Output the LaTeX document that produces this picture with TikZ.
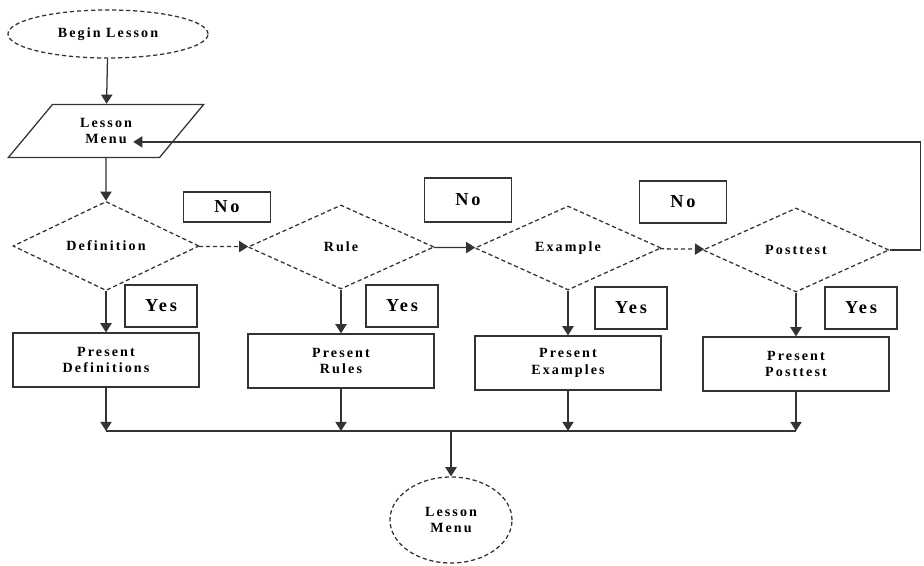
\documentclass[tikz,border=0pt]{standalone}
\usepackage{fontspec}
\setmainfont[LetterSpace=15]{Liberation Serif}
\usetikzlibrary{shapes.geometric,arrows.meta,calc}

\tikzset{
  ln/.style={draw=black!80, line width=0.9pt},
  txt/.style={font=\bfseries\fontsize{10}{12}\selectfont, align=center, inner sep=1pt},
  term/.style={ln, txt, ellipse, densely dashed},
  io/.style={ln, txt, trapezium, trapezium stretches=true, trapezium left angle=52,
    trapezium right angle=128, minimum width=4.9cm, minimum height=1.33cm},
  decide/.style={ln, txt, diamond, densely dashed, inner sep=0pt, minimum width=4.65cm, minimum height=2.1cm},
  proc/.style={ln, txt, rectangle, minimum width=4.65cm, minimum height=1.35cm},
  yesbox/.style={ln, rectangle, font=\bfseries\fontsize{13}{15}\selectfont, minimum width=1.8cm, minimum height=1.05cm},
  nobox/.style={ln, rectangle, font=\bfseries\fontsize{13}{15}\selectfont, minimum width=2.17cm, minimum height=1.05cm},
}

\begin{document}
\begin{tikzpicture}[x=0.025cm, y=-0.025cm, >={Triangle[length=6.5pt,width=8pt]}]
    \useasboundingbox (0,0) rectangle (924,565);

    \node[term, minimum width=5cm, minimum height=1.2cm] (begin) at (108,34) {Begin Lesson};
    \node[io] (menu) at (106,131) {Lesson\\Menu};

    \node[decide] (def) at (106,246) {Definition};
    \node[decide] (rule) at (341,247) {Rule};
    \node[decide] (exam) at (568,248) {Example};
    \node[decide] (post) at (796,250) {Posttest};

    \node[nobox, minimum height=0.75cm] (no1) at (227,207) {No};
    \node[nobox, minimum height=1.1cm] (no2) at (468,200) {No};
    \node[nobox] (no3) at (683,202) {No};

    \node[yesbox] (yes1) at (161,306) {Yes};
    \node[yesbox] (yes2) at (402,306) {Yes};
    \node[yesbox] (yes3) at (631,308) {Yes};
    \node[yesbox] (yes4) at (861,308) {Yes};

    \node[proc] (pdef) at (106,360) {Present\\Definitions};
    \node[proc] (prule) at (341,361) {Present\\Rules};
    \node[proc] (pexam) at (568,363) {Present\\Examples};
    \node[proc] (ppost) at (796,364) {Present\\Posttest};

    \node[term, minimum width=3.05cm, minimum height=2.15cm] (last) at (451,520) {Lesson\\Menu};

    \coordinate (b1) at (106,431);
    \coordinate (b2) at (341,431);
    \coordinate (b3) at (568,431);
    \coordinate (b4) at (796,431);
    \coordinate (bm) at (451,431);

    \draw[ln,->] (begin) to (menu);
    \draw[ln,->] (menu) to (def);
    \draw[ln,->,densely dashed] (def) to (rule);
    \draw[ln,->] (rule) to (exam);
    \draw[ln,->,densely dashed] (exam) to (post);
    \draw[ln,->] (post.east) -- ++(31,0) |- ($(menu.south east)!0.3!(menu.north east)$);

    \draw[ln,->] (def) to (pdef);
    \draw[ln,->] (rule) to (prule);
    \draw[ln,->] (exam) to (pexam);
    \draw[ln,->] (post) to (ppost);

    \draw[ln,->] (pdef) to (b1);
    \draw[ln,->] (prule) to (b2);
    \draw[ln,->] (pexam) to (b3);
    \draw[ln,->] (ppost) to (b4);
    \draw[ln] (b1) -- (b4);
    \draw[ln,->] (bm) to (last);
  \end{tikzpicture}
\end{document}
